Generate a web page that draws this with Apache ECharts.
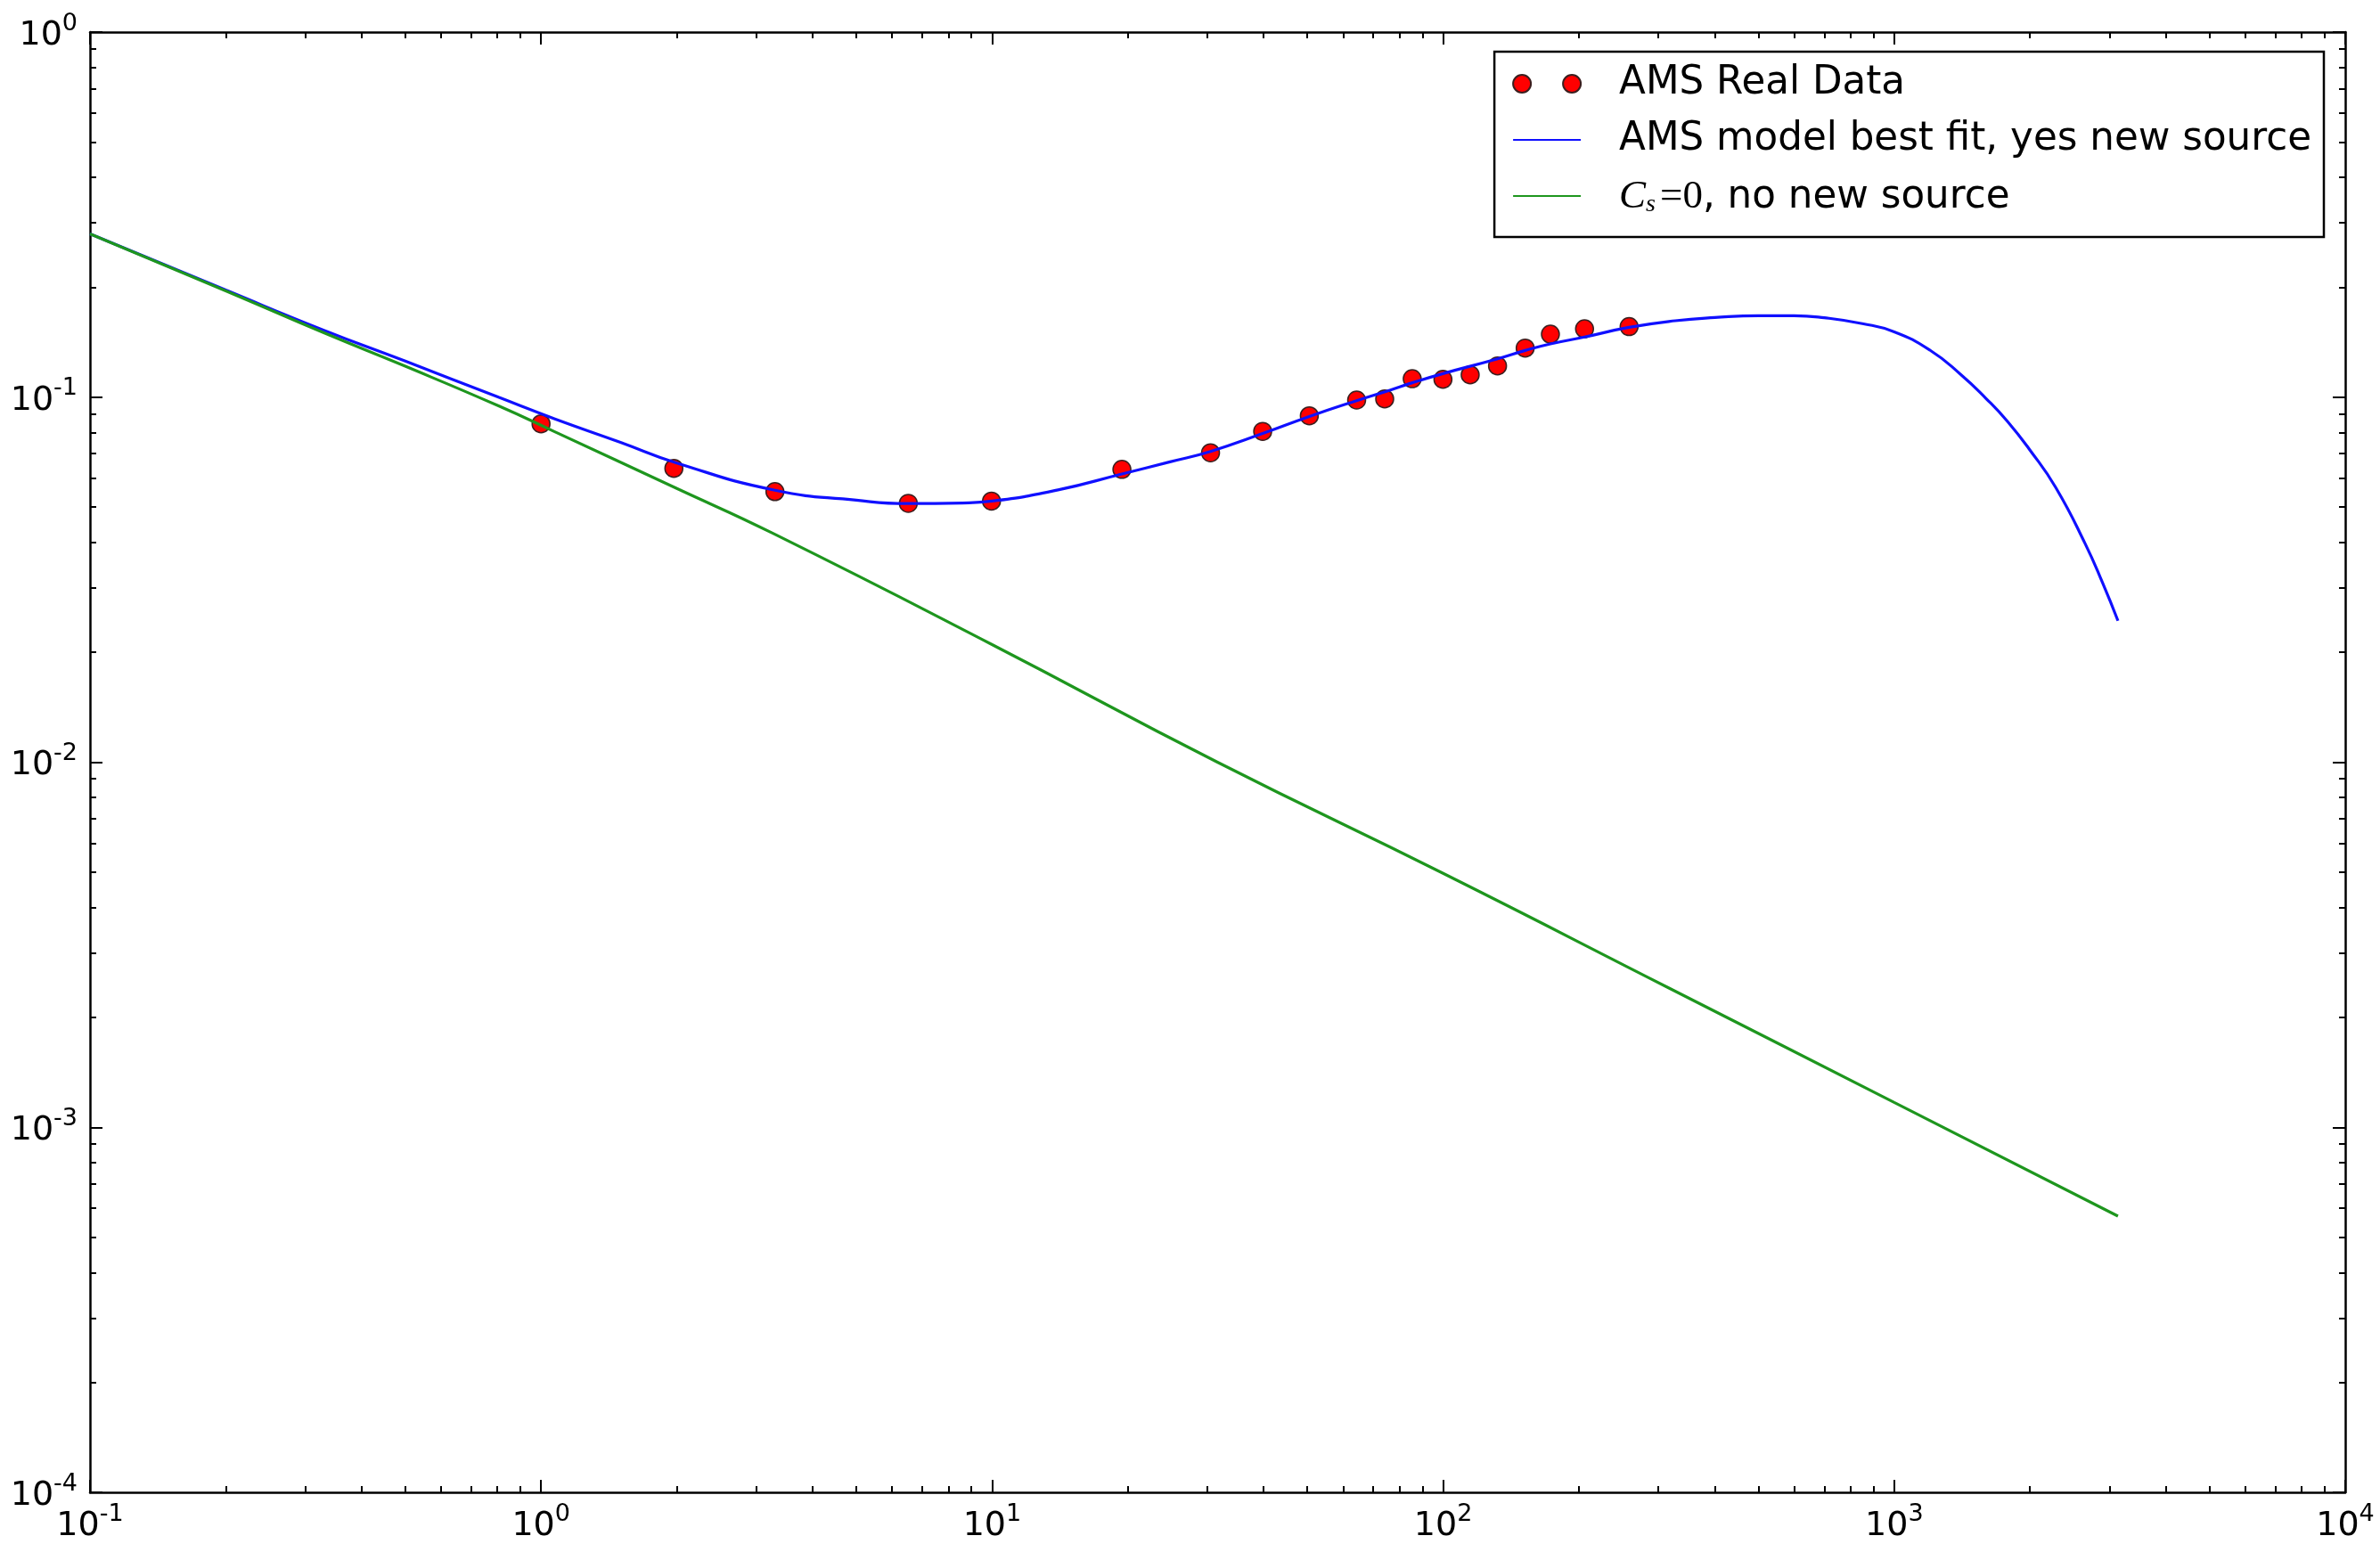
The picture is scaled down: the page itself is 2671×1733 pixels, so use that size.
<!DOCTYPE html>
<html>
<head>
<meta charset="utf-8">
<script src="https://cdn.jsdelivr.net/npm/echarts@6/dist/echarts.min.js"></script>
<style>
  html, body { margin: 0; padding: 0; background: #fff; }
  #chart { width: 2671px; height: 1733px; }
</style>
</head>
<body>
<div id="chart"></div>
<script>
// AMS positron fraction measurements: [energy, fraction]
const amsData = [
  [1.0, 0.0845], [1.97, 0.0638], [3.30, 0.0551], [6.52, 0.0512], [9.97, 0.0519],
  [19.4, 0.0634], [30.5, 0.0704], [39.8, 0.0806], [50.5, 0.0889], [64.3, 0.0982],
  [74.2, 0.0989], [85.4, 0.1123], [99.9, 0.1119], [114.8, 0.1151], [132, 0.1218],
  [152, 0.1363], [172.9, 0.1488], [205.8, 0.1539], [258.4, 0.1560]
];

// Best-fit model with an additional primary source
const modelNewSource = [
  [0.1, 0.280], [0.2, 0.1965], [0.33, 0.1525], [0.5, 0.1255], [0.807, 0.0998],
  [1.07, 0.0873], [1.5, 0.0752], [2.0, 0.0660], [3.3, 0.0556], [5.0, 0.0522],
  [6.5, 0.0511], [8.6, 0.0513], [10, 0.0519], [14, 0.0557], [19.4, 0.0616],
  [24.8, 0.0665], [30.5, 0.0710], [39.8, 0.0795], [50.5, 0.0885], [64.3, 0.0978],
  [76.2, 0.1045], [85.4, 0.1095], [99.9, 0.1160], [132, 0.1273], [152, 0.1342],
  [172.9, 0.1399], [205.8, 0.1461], [258.4, 0.1553], [327, 0.1619], [400, 0.1652],
  [500, 0.1672], [600, 0.1672], [700, 0.1650], [850, 0.1590], [1000, 0.1510],
  [1200, 0.1345], [1402, 0.1156], [1600, 0.0990], [1783, 0.0858], [2000, 0.0716],
  [2280, 0.0566], [2650, 0.0397], [2900, 0.0309], [3134, 0.0244]
];

// Secondary-only prediction (C_s = 0)
const modelNoSource = [
  [0.1, 0.280], [0.2, 0.1955], [0.33, 0.150], [0.5, 0.1215], [0.807, 0.0945],
  [1.07, 0.0805], [2.0, 0.0562], [3.26, 0.0424], [10, 0.0210], [31.6, 0.0100],
  [100, 0.00496], [316, 0.00241], [1000, 0.00117], [3134, 0.000571]
];

// Decade exponents for the tick labels
const xExponents = [-1, 0, 1, 2, 3, 4];
const yExponents = [-4, -3, -2, -1, 0];

const seriesNames = [
  'AMS Real Data',
  'AMS model best fit, yes new source',
  'C_s=0, no new source'
];

const FONT = 'DejaVu Sans';
const SERIF = 'Liberation Serif';

// minor tick positions (in exponent units) for 2..9 within each decade
function minorTicks(exps) {
  const out = [];
  for (let i = 0; i < exps.length - 1; i++) {
    for (let k = 2; k <= 9; k++) out.push(exps[i] + Math.log10(k));
  }
  return out;
}

function powLabel(v) {
  const e = Math.round(Math.log10(v));
  return '{b|10}{e|' + e + '}';
}

const labelRich = {
  b: { fontFamily: FONT, fontSize: 38, color: '#000', lineHeight: 46, verticalAlign: 'bottom' },
  e: { fontFamily: FONT, fontSize: 27, color: '#000', lineHeight: 20, verticalAlign: 'top' }
};

const frameLine = { show: true, onZero: false, lineStyle: { color: '#000', width: 2.5 } };
const hiddenLine = { show: false, onZero: false };
const majorTick = { show: true, inside: true, length: 14, lineStyle: { color: '#000', width: 2 } };
const minorTickStyle = { color: '#000', width: 2 };

const xMin = Math.pow(10, xExponents[0]), xMax = Math.pow(10, xExponents[xExponents.length - 1]);
const yMin = Math.pow(10, yExponents[0]), yMax = Math.pow(10, yExponents[yExponents.length - 1]);

function minorAxis(exps, position) {
  return {
    type: 'value', min: exps[0], max: exps[exps.length - 1], position: position,
    axisLine: hiddenLine, splitLine: { show: false }, axisLabel: { show: false },
    axisTick: { show: true, inside: true, length: 7, lineStyle: minorTickStyle,
                customValues: minorTicks(exps) }
  };
}

const chart = echarts.init(document.getElementById('chart'), null, { renderer: 'canvas' });

chart.setOption({
  backgroundColor: '#fff',
  animation: false,
  grid: { left: 101, right: 39, top: 36, bottom: 58, containLabel: false },
  xAxis: [
    { type: 'log', logBase: 10, min: xMin, max: xMax, position: 'bottom',
      axisLine: frameLine, axisTick: majorTick, splitLine: { show: false },
      axisLabel: { show: true, margin: 11, formatter: powLabel, rich: labelRich } },
    minorAxis(xExponents, 'bottom'),
    { type: 'log', logBase: 10, min: xMin, max: xMax, position: 'top',
      axisLine: frameLine, axisTick: majorTick, splitLine: { show: false },
      axisLabel: { show: false } },
    minorAxis(xExponents, 'top')
  ],
  yAxis: [
    { type: 'log', logBase: 10, min: yMin, max: yMax, position: 'left',
      axisLine: frameLine, axisTick: majorTick, splitLine: { show: false },
      axisLabel: { show: true, margin: 14, formatter: powLabel, rich: labelRich } },
    minorAxis(yExponents, 'left'),
    { type: 'log', logBase: 10, min: yMin, max: yMax, position: 'right',
      axisLine: frameLine, axisTick: majorTick, splitLine: { show: false },
      axisLabel: { show: false } },
    minorAxis(yExponents, 'right')
  ],
  legend: {
    orient: 'vertical',
    right: 63,
    top: 58,
    align: 'left',
    backgroundColor: '#fff',
    borderColor: '#000',
    borderWidth: 2.5,
    borderRadius: 0,
    padding: [12, 14, 22, 20],
    itemWidth: 76,
    itemHeight: 20,
    itemGap: 15,
    textStyle: {
      fontFamily: FONT, fontSize: 43.6, color: '#000', lineHeight: 48, padding: [0, 0, 0, 38],
      rich: {
        ci: { fontFamily: SERIF, fontStyle: 'italic', fontSize: 45, color: '#000', verticalAlign: 'bottom' },
        cs: { fontFamily: SERIF, fontStyle: 'italic', fontSize: 28, color: '#000', lineHeight: 12, verticalAlign: 'bottom' },
        ce: { fontFamily: SERIF, fontSize: 45, color: '#000', verticalAlign: 'bottom', padding: [0, 0, 0, 5] },
        t: { fontFamily: FONT, fontSize: 43.6, color: '#000', verticalAlign: 'bottom' }
      }
    },
    formatter: function (name) {
      if (name === seriesNames[2]) return '{ci|C}{cs|s}{ce|=0}{t|, no new source}';
      return name;
    },
    data: [
      { name: seriesNames[0],
        icon: 'path://M0,10 A10,10 0 1,0 20,10 A10,10 0 1,0 0,10 Z M56,10 A10,10 0 1,0 76,10 A10,10 0 1,0 56,10 Z' },
      { name: seriesNames[1], itemStyle: { opacity: 0 } },
      { name: seriesNames[2], itemStyle: { opacity: 0 } }
    ]
  },
  series: [
    {
      name: seriesNames[0],
      type: 'scatter',
      xAxisIndex: 0, yAxisIndex: 0,
      data: amsData,
      symbol: 'circle',
      symbolSize: 20,
      itemStyle: { color: '#ff0000', borderColor: '#3b1f1f', borderWidth: 1.5, opacity: 1 },
      z: 2
    },
    {
      name: seriesNames[1],
      type: 'line',
      xAxisIndex: 0, yAxisIndex: 0,
      data: modelNewSource,
      smooth: 0.5,
      showSymbol: false,
      symbol: 'none',
      lineStyle: { color: '#1010ff', width: 3.2 },
      itemStyle: { color: '#1010ff' },
      z: 3
    },
    {
      name: seriesNames[2],
      type: 'line',
      xAxisIndex: 0, yAxisIndex: 0,
      data: modelNoSource,
      smooth: 0.5,
      showSymbol: false,
      symbol: 'none',
      lineStyle: { color: '#1e961e', width: 3.2 },
      itemStyle: { color: '#1e961e' },
      z: 3
    }
  ]
});
</script>
</body>
</html>
